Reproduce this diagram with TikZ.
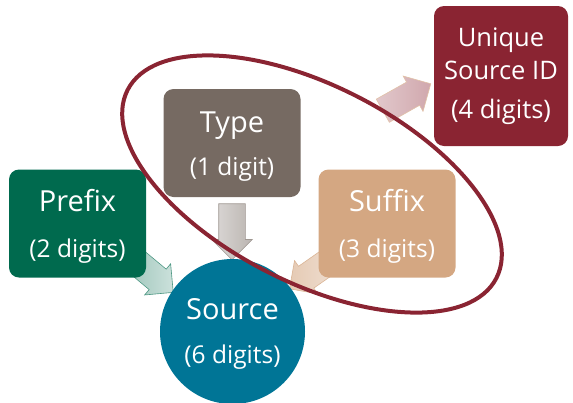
\documentclass[tikz,border=0pt]{standalone}
\usepackage{fontspec}
\setmainfont{Open Sans}
\usetikzlibrary{shapes.arrows, backgrounds}

\definecolor{prefixgreen}{HTML}{006A4E}
\definecolor{typegray}{HTML}{766A62}
\definecolor{suffixtan}{HTML}{D4A782}
\definecolor{uniquered}{HTML}{8A2432}
\definecolor{sourceblue}{HTML}{007596}

\begin{document}
\begin{tikzpicture}[x=1pt, y=-1pt,
		bx/.style = {rectangle, rounded corners=10pt, minimum width=137, minimum height=108, inner sep=0},
		ttl/.style = {anchor=base, text=white, inner sep=0, font=\fontsize{29}{34}\selectfont},
		sub/.style = {anchor=base, text=white, inner sep=0, font=\fontsize{24.5}{29}\selectfont},
		uid/.style = {anchor=base, text=white, inner sep=0, font=\fontsize{25.5}{30}\selectfont},
		ba/.style = {single arrow, single arrow head extend=7pt, single arrow tip angle=90,
			inner xsep=0, inner ysep=13pt, line width=0.6pt, sloped, allow upside down, midway},
		ring/.style = {draw=uniquered, line width=4pt}
		]
		\useasboundingbox (0,0) rectangle (573,402);
		
		% === === Nodes === ===
		\node[bx, fill=prefixgreen]	(prefix)	at	(77.5, 223.5)	{};
		\node[bx, fill=typegray]	(type)		at	(232, 143)		{};
		\node[bx, fill=suffixtan]	(suffix)	at	(387, 223.5)	{};
		\node[bx, fill=uniquered, minimum width=134, minimum height=140]	(unique)	at	(501, 76)	{};
		\node[circle, fill=sourceblue, minimum size=145, inner sep=0]	(source)	at	(232.5, 331.5)	{};
		
		\node[ttl]	(prefix-t)	at	(77.5, 211)		{Prefix};
		\node[sub]	(prefix-s)	at	(77.5, 257)		{(2 digits)};
		\node[ttl]	(type-t)	at	(232, 132)		{Type};
		\node[sub]	(type-s)	at	(232, 175)		{(1 digit)};
		\node[ttl]	(suffix-t)	at	(387, 211)		{Suffix};
		\node[sub]	(suffix-s)	at	(387, 257)		{(3 digits)};
		\node[uid]	(unique-a)	at	(501, 46)		{Unique};
		\node[uid]	(unique-b)	at	(501, 79)		{Source ID};
		\node[uid]	(unique-c)	at	(501, 118)		{(4 digits)};
		\node[ttl]	(source-t)	at	(232.5, 319)	{Source};
		\node[sub]	(source-s)	at	(232.5, 363)	{(6 digits)};
		
		\coordinate	(t-tip)		at	(232, 253);
		\coordinate	(p-tail)	at	(126, 253);
		\coordinate	(p-tip)		at	(168, 288);
		\coordinate	(s-tail)	at	(340, 253.5);
		\coordinate	(s-tip)		at	(295, 285);
		\coordinate	(u-tail)	at	(377, 114);
		\coordinate	(u-tip)		at	(425, 87);
		
		% === === Lines === ===
		\begin{scope}[on background layer]
		\path (type.south) -- (t-tip) node[ba, minimum height=56, draw=typegray!70, left color=typegray!25, right color=typegray!50] {};
		\path (p-tail) -- (p-tip) node[ba, minimum height=55, draw=prefixgreen!70, left color=prefixgreen!40, right color=prefixgreen!20] {};
		\path (s-tail) -- (s-tip) node[ba, minimum height=55, draw=suffixtan!85, left color=suffixtan!60, right color=suffixtan!35] {};
		\path (u-tail) -- (u-tip) node[ba, minimum height=55, draw=suffixtan!70, left color=uniquered!25, right color=uniquered!40] {};
		\end{scope}
		
		\draw[ring, rotate around={-27:(312,184)}] (312,184) ellipse [x radius=207pt, y radius=98.5pt];
		
\end{tikzpicture}
\end{document}
